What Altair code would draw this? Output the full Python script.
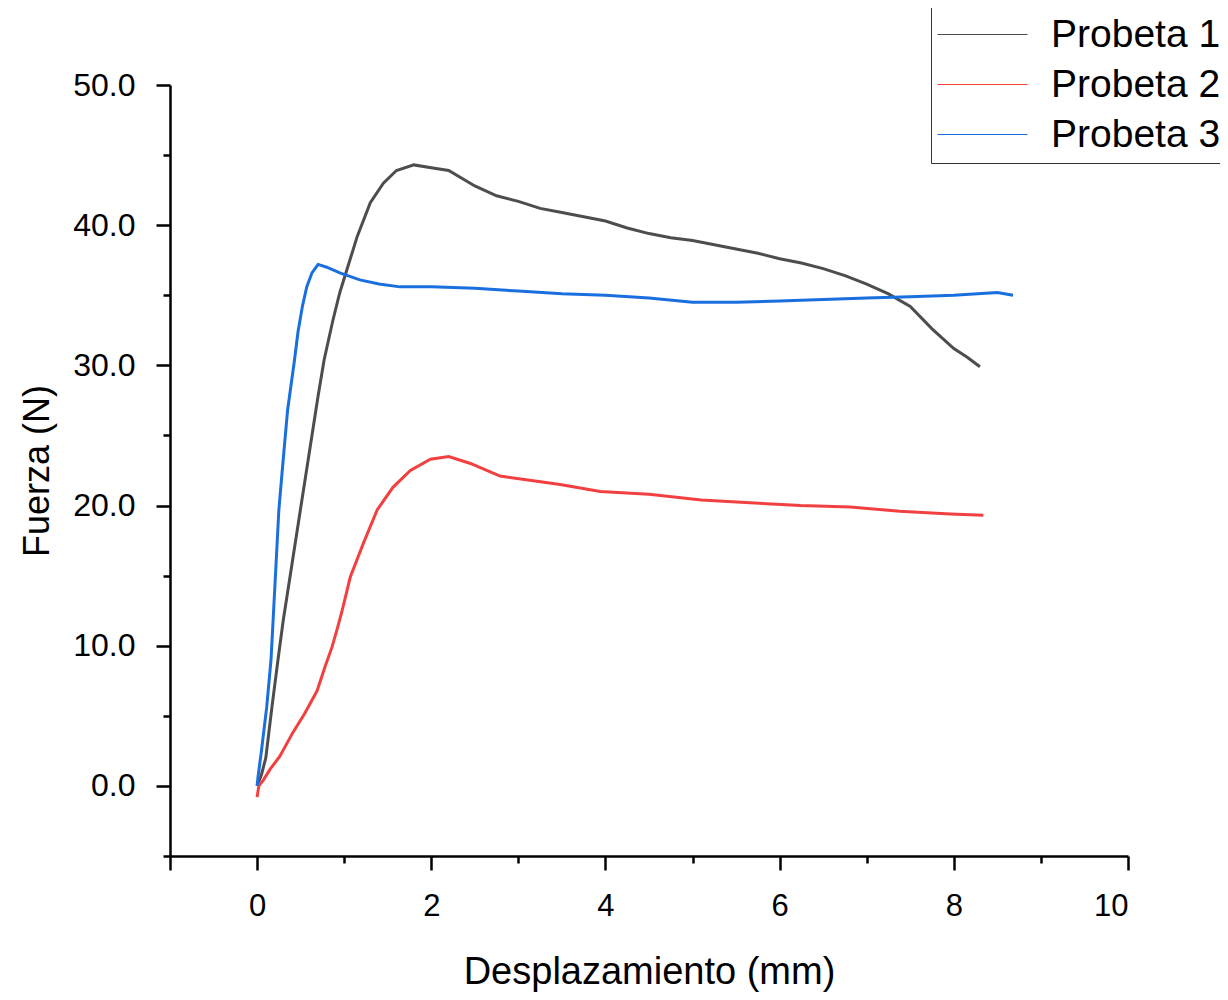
import altair as alt
import pandas as pd

series = ["Probeta 1", "Probeta 2", "Probeta 3"]
colors = ["#4d4d4d", "#f24040", "#1a6fdf"]

p1_x = [0.0, 0.05, 0.1, 0.17, 0.24, 0.3, 0.4, 0.5, 0.63, 0.7, 0.77, 0.87, 0.95, 1.03,
        1.15, 1.3, 1.45, 1.6, 1.8, 2.0, 2.2, 2.5, 2.75, 3.0, 3.25, 3.5, 3.75, 4.0, 4.25, 4.5,
        4.75, 5.0, 5.25, 5.5, 5.75, 6.0, 6.25, 6.5, 6.75, 7.0, 7.25, 7.5, 7.75, 8.0, 8.15, 8.3]
p1_y = [0.0, 0.8, 2.0, 5.6, 9.0, 11.8, 15.8, 19.8, 25.0, 27.8, 30.4, 33.2, 35.2, 36.8,
        39.2, 41.6, 43.0, 43.9, 44.3, 44.1, 43.9, 42.8, 42.1, 41.7, 41.2, 40.9, 40.6, 40.3, 39.8, 39.4,
        39.1, 38.9, 38.6, 38.3, 38.0, 37.6, 37.3, 36.9, 36.4, 35.8, 35.1, 34.2, 32.6, 31.2, 30.6, 29.9]

p2_x = [0.0, 0.02, 0.07, 0.15, 0.26, 0.41, 0.55, 0.69, 0.78, 0.86, 0.92, 0.98, 1.07, 1.22, 1.38,
        1.56, 1.76, 1.99, 2.2, 2.45, 2.79, 3.13, 3.48, 3.94, 4.5, 5.1, 5.66, 6.24, 6.81, 7.38,
        7.96, 8.34]
p2_y = [-0.8, 0.0, 0.4, 1.2, 2.1, 3.8, 5.2, 6.8, 8.5, 9.9, 11.2, 12.6, 14.9, 17.3, 19.7,
        21.3, 22.5, 23.3, 23.5, 23.0, 22.1, 21.8, 21.5, 21.0, 20.8, 20.4, 20.2, 20.0, 19.9, 19.6,
        19.4, 19.3]

p3_x = [0.0, 0.01, 0.05, 0.11, 0.16, 0.22, 0.25, 0.3, 0.35, 0.43, 0.47, 0.52, 0.57, 0.63, 0.7,
        0.8, 0.95, 1.18, 1.4, 1.64, 2.0, 2.5, 3.0, 3.5, 4.0, 4.5, 5.0, 5.5, 6.0, 6.5, 7.0, 7.5,
        8.0, 8.5, 8.68]
p3_y = [0.0, 0.6, 2.5, 5.6, 9.0, 16.1, 19.7, 23.3, 26.8, 30.4, 32.4, 34.2, 35.6, 36.6, 37.2,
        37.0, 36.6, 36.1, 35.8, 35.6, 35.6, 35.5, 35.3, 35.1, 35.0, 34.8, 34.5, 34.5, 34.6, 34.7,
        34.8, 34.9, 35.0, 35.2, 35.0]

x_ticks = list(range(-1, 11))
y_ticks = list(range(-5, 51, 5))

rows = []
for name, xs, ys in zip(series, [p1_x, p2_x, p3_x], [p1_y, p2_y, p3_y]):
    for i, (xv, yv) in enumerate(zip(xs, ys)):
        rows.append({"serie": name, "x": xv, "y": yv, "ord": i})
df = pd.DataFrame(rows)

FONT = "Liberation Sans"

x_axis = alt.Axis(
    values=x_ticks,
    labelExpr="datum.value >= 0 && datum.value % 2 === 0 ? datum.label : ''",
    tickSize={"condition": {"test": "datum.value % 2 === 0 || datum.value === -1", "value": 14}, "value": 7},
    labelPadding=21,
    labelFontSize=31,
    title="Desplazamiento (mm)",
    titlePadding=32,
    titleFontSize=38,
)
y_axis = alt.Axis(
    values=y_ticks,
    labelExpr="datum.value % 10 === 0 ? format(datum.value, '.1f') : ''",
    tickSize={"condition": {"test": "datum.value % 10 === 0", "value": 14}, "value": 7},
    labelPadding=21,
    labelFontSize=32,
    title="Fuerza (N)",
    titlePadding=16,
    titleFontSize=36,
)

chart = alt.Chart(df).mark_line(strokeWidth=3).encode(
    x=alt.X("x:Q", scale=alt.Scale(domain=[-1, 10], nice=False, zero=False), axis=x_axis),
    y=alt.Y("y:Q", scale=alt.Scale(domain=[-5, 50], nice=False, zero=False), axis=y_axis),
    color=alt.Color(
        "serie:N",
        scale=alt.Scale(domain=series, range=colors),
        legend=alt.Legend(
            title=None,
            orient="none",
            legendX=761,
            legendY=-78,
            symbolType="M-4.5,0H4.5",
            symbolSize=400,
            symbolStrokeWidth=1.2,
            symbolOffset=24,
            labelOffset=49,
            labelFontSize=39,
            labelFont=FONT,
            labelColor="black",
            labelLimit=400,
            rowPadding=10,
            padding=8,
            strokeColor="#333333",
            fillColor="white",
        ),
    ),
    order="ord:Q",
).properties(
    width=958,
    height=771,
    autosize=alt.AutoSizeParams(type="none"),
    padding={"left": 162, "top": 77, "right": 92, "bottom": 136},
).configure_view(
    stroke=None
).configure_axis(
    grid=False,
    domainColor="black",
    domainWidth=2.5,
    tickColor="black",
    tickWidth=2.5,
    labelFont=FONT,
    labelColor="black",
    titleFont=FONT,
    titleFontWeight="normal",
    titleColor="black",
)

chart.save("out.html", embed_options={"renderer": "svg", "actions": False})
